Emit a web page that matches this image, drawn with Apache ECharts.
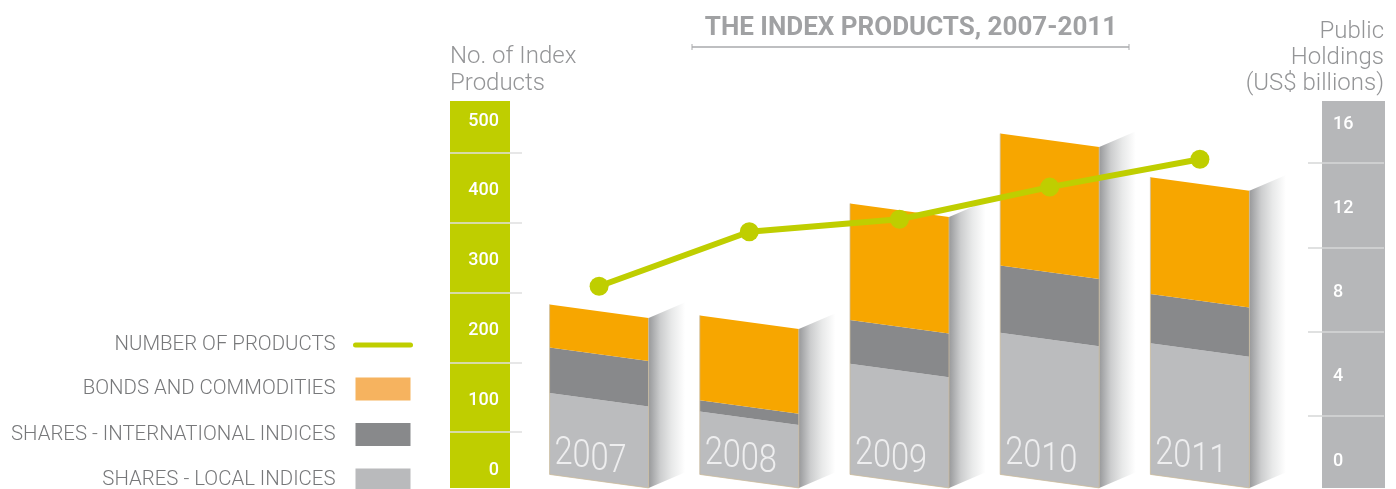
<!DOCTYPE html>
<html>
<head>
<meta charset="utf-8">
<title>The Index Products, 2007-2011</title>
<script src="https://cdn.jsdelivr.net/npm/echarts@6/dist/echarts.min.js"></script>
<style>
  html, body { margin: 0; padding: 0; background: #fff; }
  #main { width: 1396px; height: 489px; }
</style>
</head>
<body>
<div id="main"></div>
<script>
var years = ['2007', '2008', '2009', '2010', '2011'];
// US$ billions, height of each block
var localIndices = [3.86, 2.99, 5.25, 6.73, 6.23];
var intlIndices = [2.16, 0.53, 2.08, 3.19, 2.33];
var bondsCommodities = [2.05, 4.03, 5.53, 6.26, 5.55];
var productCount = [259, 337, 355, 401, 441];
var leftTicks = [0, 500];
var rightTicks = [0, 16];
var legendNames = ['NUMBER OF PRODUCTS', 'BONDS AND COMMODITIES', 'SHARES - INTERNATIONAL INDICES', 'SHARES - LOCAL INDICES'];
// the columns stand below the "0" label of the holdings scale
var barBase = -1.42;

var FONT = 'Roboto';
var barWidth = 99, slant = 13.5, sideWidth = 42, sideRise = 18;

function stackFrom(lists, n) {
    return years.map(function (y, i) {
        var start = barBase;
        for (var k = 0; k < n; k++) start += lists[k][i];
        return [i, start, start + lists[n][i]];
    });
}

function renderFace(color) {
    return function (params, api) {
        var cx = api.coord([api.value(0), 0])[0];
        var y0 = api.coord([api.value(0), api.value(1)])[1];
        var y1 = api.coord([api.value(0), api.value(2)])[1];
        var l = cx - barWidth / 2, r = cx + barWidth / 2;
        return {
            type: 'polygon',
            shape: { points: [[l, y1 - slant], [r, y1], [r, y0], [l, y0 - slant]] },
            style: { fill: color }
        };
    };
}

// side of the column, faint outline and the year written on the front
function renderShell(params, api) {
    var cx = api.coord([api.value(0), 0])[0];
    var y0 = api.coord([api.value(0), api.value(1)])[1];
    var y1 = api.coord([api.value(0), api.value(2)])[1];
    var l = cx - barWidth / 2, r = cx + barWidth / 2;
    var children = [{
        type: 'polygon',
        shape: { points: [[r, y1], [r + sideWidth, y1 - sideRise], [r + sideWidth, y0 - sideRise], [r, y0]] },
        style: {
            fill: {
                type: 'linear', x: 0, y: 0, x2: 1, y2: 0,
                colorStops: [
                    { offset: 0, color: '#98999b' },
                    { offset: 0.28, color: '#cccdce' },
                    { offset: 0.55, color: '#e8e9e9' },
                    { offset: 0.87, color: '#ffffff' }
                ]
            }
        }
    }, {
        type: 'polyline',
        shape: { points: [[l, y1 - slant], [l, y0 - slant], [r, y0], [r, y1]] },
        style: { fill: 'none', stroke: '#cbbb9c', lineWidth: 0.8 }
    }];
    // digits stay upright and step down along the slanted front
    years[api.value(0)].split('').forEach(function (digit, d) {
        children.push({
            type: 'text',
            x: l + 14 + d * 18,
            y: y0 - 33 + d * 2.6,
            scaleX: 0.86,
            style: {
                text: digit,
                font: '300 38px ' + FONT,
                fill: '#eeeeef',
                align: 'center',
                verticalAlign: 'middle'
            }
        });
    });
    return { type: 'group', children: children };
}

var chart = echarts.init(document.getElementById('main'));
var gridBox = { left: 524, width: 751 };
var hiddenX = { type: 'category', data: years, show: false };

chart.setOption({
    animation: false,
    title: {
        text: 'THE INDEX PRODUCTS, 2007-2011',
        left: 906,
        top: 10,
        textAlign: 'center',
        textStyle: { fontFamily: FONT, fontSize: 26, fontWeight: 700, color: '#a0a1a3' }
    },
    legend: {
        orient: 'vertical',
        align: 'right',
        right: 983,
        top: 335,
        height: 190,
        padding: 0,
        itemWidth: 55,
        itemHeight: 23,
        itemGap: 22.5,
        selectedMode: false,
        textStyle: { fontFamily: FONT, fontSize: 20.4, fontWeight: 300, color: '#77787a', padding: [0, 15, 0, 0] },
        data: [
            { name: legendNames[0], icon: 'line', itemStyle: { borderColor: '#bfce00', borderWidth: 5, borderCap: 'round' } },
            { name: legendNames[1], icon: 'rect', itemStyle: { color: '#f6b35f' } },
            { name: legendNames[2], icon: 'rect', itemStyle: { color: '#88898b' } },
            { name: legendNames[3], icon: 'rect', itemStyle: { color: '#b9babc' } }
        ]
    },
    grid: [
        { left: gridBox.left, width: gridBox.width, top: 118, height: 349 },
        { left: gridBox.left, width: gridBox.width, top: 121, height: 337 }
    ],
    xAxis: [
        Object.assign({ gridIndex: 0 }, hiddenX),
        Object.assign({ gridIndex: 1 }, hiddenX)
    ],
    yAxis: [{
        gridIndex: 0,
        type: 'value',
        position: 'left',
        offset: 74,
        min: leftTicks[0],
        max: leftTicks[1],
        interval: 100,
        splitLine: { show: false },
        axisLine: { show: false },
        axisTick: { show: false, inside: true },
        minorTick: { show: true, splitNumber: 2, length: 72, lineStyle: { color: '#dfe0e0', width: 1.5 } },
        axisLabel: { inside: true, align: 'right', verticalAlign: 'top', lineHeight: 6, margin: 49, fontFamily: FONT, fontSize: 18, fontWeight: 500, color: '#ffffff' },
        name: 'No. of Index\nProducts',
        nameLocation: 'end',
        nameGap: 21,
        nameTextStyle: { align: 'left', fontFamily: FONT, fontSize: 24, fontWeight: 300, lineHeight: 27, color: '#949597' }
    }, {
        gridIndex: 1,
        type: 'value',
        position: 'right',
        offset: 109,
        min: rightTicks[0],
        max: rightTicks[1],
        interval: 4,
        splitLine: { show: false },
        axisLine: { show: false },
        axisTick: { show: false, inside: true },
        minorTick: { show: true, splitNumber: 2, length: 76, lineStyle: { color: '#d6d7d8', width: 1.5 } },
        axisLabel: { inside: true, align: 'left', verticalAlign: 'top', lineHeight: 6, margin: 51, fontFamily: FONT, fontSize: 18, fontWeight: 500, color: '#ffffff' },
        name: 'Public\nHoldings\n(US$ billions)',
        nameLocation: 'end',
        nameGap: 24,
        nameTextStyle: { align: 'right', fontFamily: FONT, fontSize: 24, fontWeight: 300, lineHeight: 26, color: '#949597' }
    }],
    graphic: [
        { type: 'rect', z: -1, shape: { x: 450, y: 101, width: 60, height: 387 }, style: { fill: '#bfce00' } },
        { type: 'rect', z: -1, shape: { x: 1322, y: 101, width: 63, height: 387 }, style: { fill: '#b6b7b9' } },
        { type: 'polyline', shape: { points: [[692, 47], [1129, 47]] }, style: { stroke: '#a9aaac', lineWidth: 1.5, fill: 'none' } },
        { type: 'polyline', shape: { points: [[692, 44], [692, 50]] }, style: { stroke: '#a9aaac', lineWidth: 1, fill: 'none' } },
        { type: 'polyline', shape: { points: [[1129, 44], [1129, 50]] }, style: { stroke: '#a9aaac', lineWidth: 1, fill: 'none' } }
    ],
    series: [{
        name: legendNames[3],
        type: 'custom',
        xAxisIndex: 1,
        yAxisIndex: 1,
        clip: false,
        z: 2,
        itemStyle: { color: '#b9babc' },
        renderItem: renderFace('#bbbcbe'),
        data: stackFrom([localIndices, intlIndices, bondsCommodities], 0)
    }, {
        name: legendNames[2],
        type: 'custom',
        xAxisIndex: 1,
        yAxisIndex: 1,
        clip: false,
        z: 2,
        itemStyle: { color: '#88898b' },
        renderItem: renderFace('#88898b'),
        data: stackFrom([localIndices, intlIndices, bondsCommodities], 1)
    }, {
        name: legendNames[1],
        type: 'custom',
        xAxisIndex: 1,
        yAxisIndex: 1,
        clip: false,
        z: 2,
        itemStyle: { color: '#f6b35f' },
        renderItem: renderFace('#f7a600'),
        data: stackFrom([localIndices, intlIndices, bondsCommodities], 2)
    }, {
        name: 'shell',
        type: 'custom',
        xAxisIndex: 1,
        yAxisIndex: 1,
        clip: false,
        z: 3,
        renderItem: renderShell,
        data: years.map(function (y, i) {
            return [i, barBase, barBase + localIndices[i] + intlIndices[i] + bondsCommodities[i]];
        })
    }, {
        name: legendNames[0],
        type: 'line',
        xAxisIndex: 0,
        yAxisIndex: 0,
        z: 5,
        data: productCount,
        symbol: 'circle',
        symbolSize: 19,
        lineStyle: { color: '#bfce00', width: 6 },
        itemStyle: { color: '#bfce00' }
    }]
});
</script>
</body>
</html>
